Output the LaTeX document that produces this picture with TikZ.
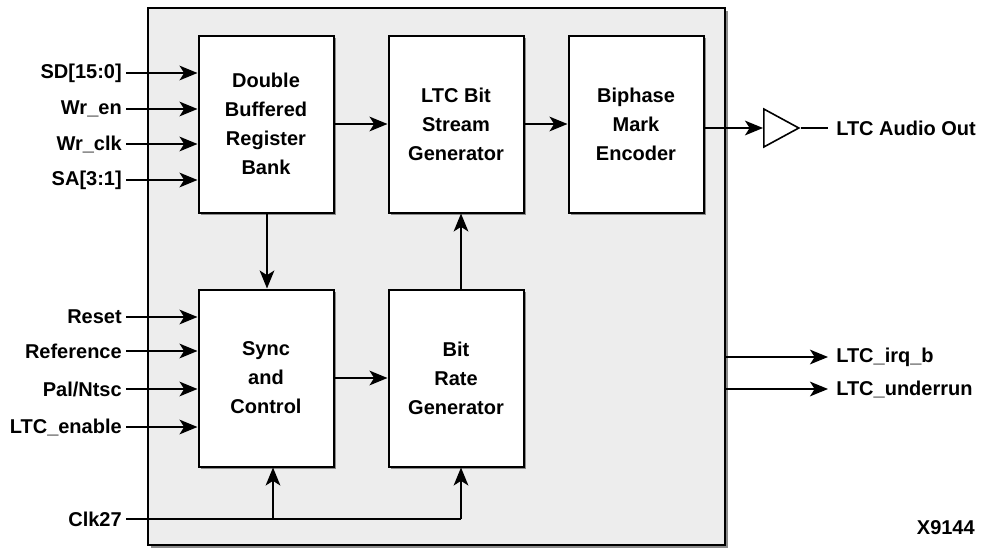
\documentclass[tikz,border=0pt]{standalone}
\usepackage{fontspec}
\setmainfont{Liberation Sans}
\usetikzlibrary{arrows.meta,shadows,shapes.geometric}

\begin{document}
\begin{tikzpicture}[x=0.75pt,y=-0.75pt,
  font=\fontsize{15pt}{21.75pt}\selectfont\bfseries,
  frame/.style={draw, line width=1.5pt, fill=black!7, inner sep=0pt,
    minimum width=432.75pt, minimum height=402.75pt,
    drop shadow={shadow xshift=2.6pt, shadow yshift=-2.6pt, fill=black!45, opacity=1}},
  blk/.style={draw, line width=1.5pt, fill=white, align=center, inner sep=0pt,
    minimum width=101.25pt, minimum height=132.75pt,
    drop shadow={shadow xshift=2.2pt, shadow yshift=-2.2pt, fill=black!45, opacity=1}},
  sig/.style={line width=1.4pt, -{Stealth[length=13.5pt,width=11pt,inset=3.5pt]}},
  wire/.style={line width=1.4pt},
  inlbl/.style={anchor=east, inner ysep=0pt, inner xsep=3pt},
  outlbl/.style={anchor=west, inner ysep=0pt, inner xsep=6pt},
  buffer/.style={draw, line width=1.2pt, isosceles triangle, isosceles triangle stretches,
    minimum width=28.5pt, minimum height=26.25pt, inner sep=0pt, fill=white}]

\useasboundingbox (0,0) rectangle (981,550);

% enclosing block
\node[frame] (core) at (436.5,276.5) {};

% functional blocks
\node[blk] (dbr)  at (266,124) {Double\\Buffered\\Register\\Bank};
\node[blk] (gen)  at (456,124) {LTC Bit\\Stream\\Generator};
\node[blk] (bme)  at (636,124) {Biphase\\Mark\\Encoder};
\node[blk] (sync) at (266,378) {Sync\\and\\Control};
\node[blk] (brg)  at (456,378) {Bit\\Rate\\Generator};

% input labels
\node[inlbl] (sd)    at (126,73)  {SD[15:0]};
\node[inlbl] (wren)  at (126,109) {Wr\_en};
\node[inlbl] (wrclk) at (126,144) {Wr\_clk};
\node[inlbl] (sa)    at (126,180) {SA[3:1]};
\node[inlbl] (rst)   at (126,317) {Reset};
\node[inlbl] (ref)   at (126,351) {Reference};
\node[inlbl] (pal)   at (126,389) {Pal/Ntsc};
\node[inlbl] (en)    at (126,427) {LTC\_enable};
\node[inlbl] (clk)   at (126,519) {Clk27};

% output buffer and labels
\node[buffer, anchor=west] (buf) at (763,128) {};
\node[outlbl] (aout)  at (828,128) {LTC Audio Out};
\node[outlbl] (irq)   at (828,357) {LTC\_irq\_b};
\node[outlbl] (urun)  at (828,389) {LTC\_underrun};

\node[anchor=east, inner sep=0pt] (fig) at (975,528) {X9144};

% inputs
\foreach \s in {sd,wren,wrclk,sa}
  \draw[sig] (\s.east) -- (\s.east -| dbr.west);
\foreach \s in {rst,ref,pal,en}
  \draw[sig] (\s.east) -- (\s.east -| sync.west);

% internal data flow
\draw[sig] (dbr.east) -- (gen.west);
\draw[sig] (gen.east) -- (bme.west);
\draw[sig] ([xshift=0.75pt]dbr.south) -- ([xshift=0.75pt]sync.north);
\draw[sig] (sync.east) -- (brg.west);
\draw[sig] ([xshift=3.75pt]brg.north) -- ([xshift=3.75pt]gen.south);

% clock distribution
\coordinate (tapa) at (273,519);
\coordinate (tapb) at (461,519);
\draw[wire] (clk.east) -- (tapb);
\draw[sig] (tapa) -- (tapa |- sync.south);
\draw[sig] (tapb) -- (tapb |- brg.south);

% outputs
\draw[sig] (bme.east |- buf.west) -- (buf.west);
\draw[wire] (buf.east) -- (aout.west);
\draw[sig] (irq.west -| core.east) -- (irq.west);
\draw[sig] (urun.west -| core.east) -- (urun.west);

\end{tikzpicture}
\end{document}
